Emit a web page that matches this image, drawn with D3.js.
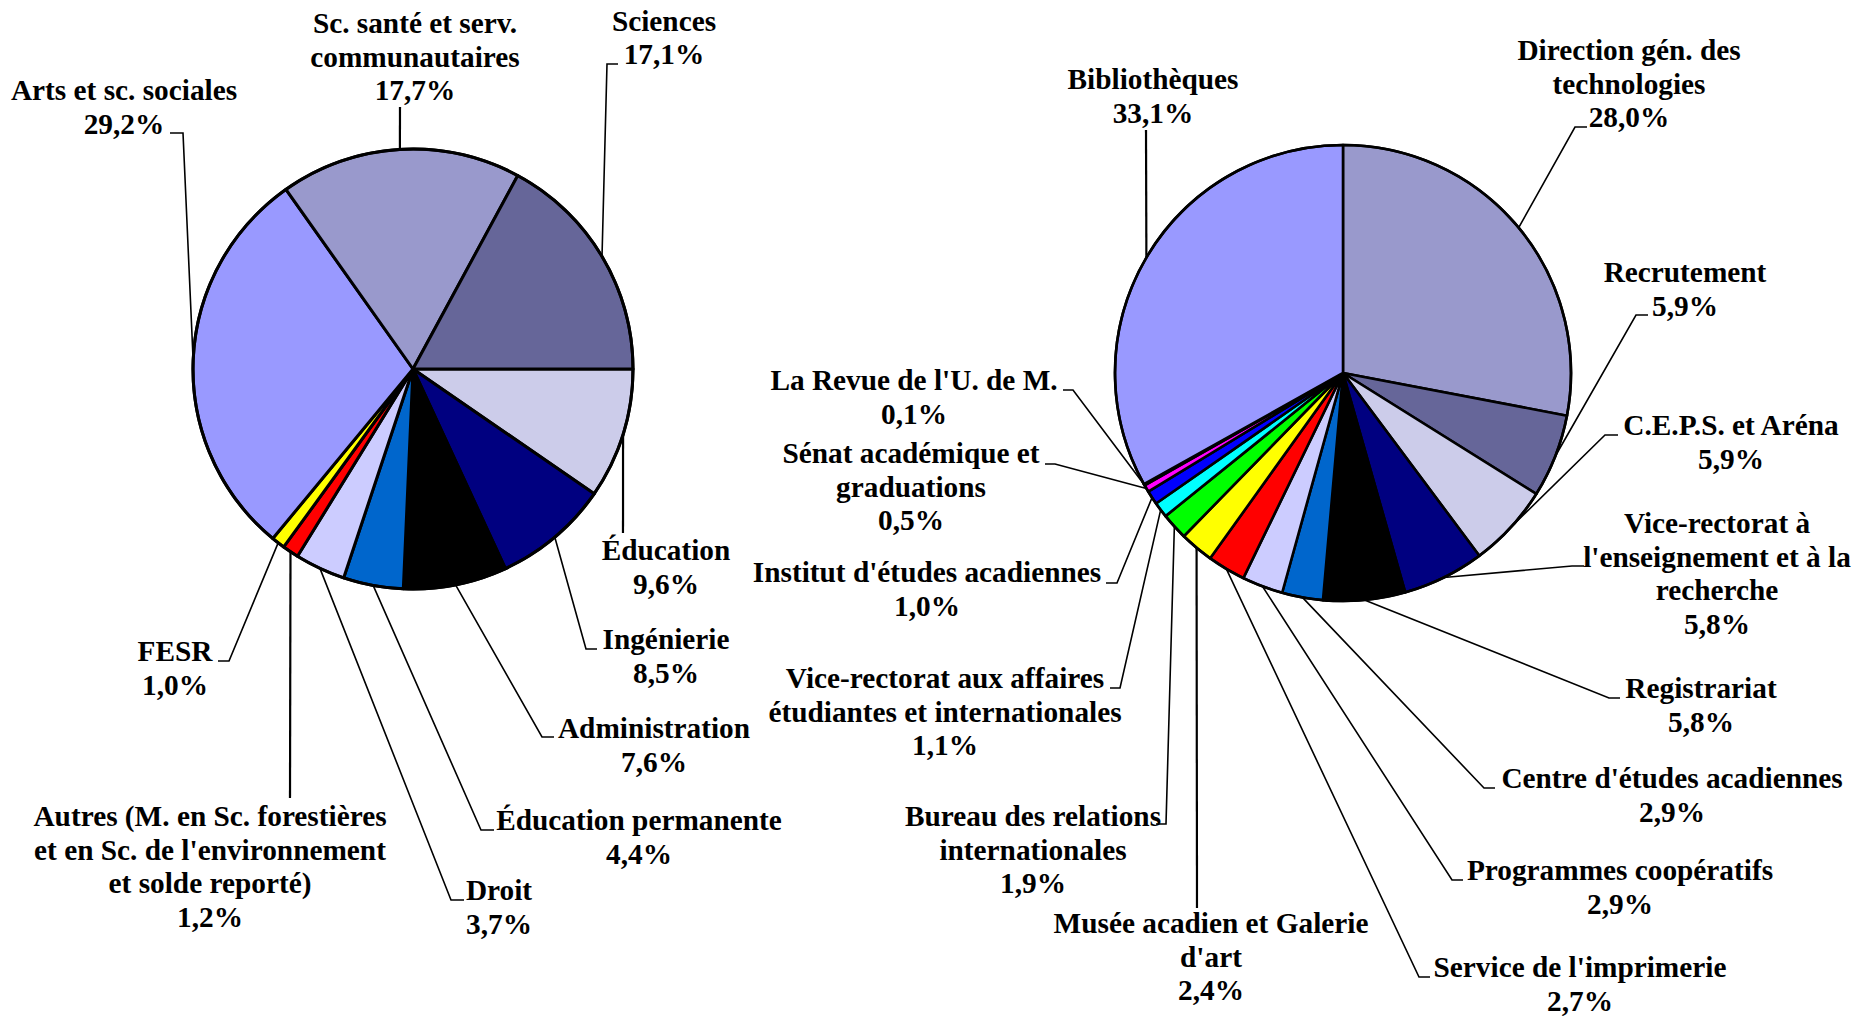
<!DOCTYPE html>
<html>
<head>
<meta charset="utf-8">
<script src="https://cdn.jsdelivr.net/npm/d3@7"></script>
<style>
  body { margin: 0; background: #fff; }
  text { font-family: "Liberation Serif", "Times New Roman", serif; font-weight: bold; font-size: 29.3px; fill: #000; }
</style>
</head>
<body>
<svg id="chart" width="1871" height="1016"></svg>
<script>
// left pie: faculties
const leftNames = [
  ['Éducation'], ['Ingénierie'], ['Administration'], ['Éducation permanente'], ['Droit'],
  ['Autres (M. en Sc. forestières', "et en Sc. de l'environnement", 'et solde reporté)'],
  ['FESR'], ['Arts et sc. sociales'], ['Sc. santé et serv.', 'communautaires'], ['Sciences']
];
const leftValues = [9.6, 8.5, 7.6, 4.4, 3.7, 1.2, 1.0, 29.2, 17.7, 17.1];

// right pie: services
const rightNames = [
  ['Direction gén. des', 'technologies'], ['Recrutement'], ['C.E.P.S. et Aréna'],
  ['Vice-rectorat à', "l'enseignement et à la", 'recherche'], ['Registrariat'],
  ["Centre d'études acadiennes"], ['Programmes coopératifs'], ["Service de l'imprimerie"],
  ['Musée acadien et Galerie', "d'art"], ['Bureau des relations', 'internationales'],
  ['Vice-rectorat aux affaires', 'étudiantes et internationales'], ["Institut d'études acadiennes"],
  ['Sénat académique et', 'graduations'], ["La Revue de l'U. de M."], ['Bibliothèques']
];
const rightValues = [28.0, 5.9, 5.9, 5.8, 5.8, 2.9, 2.9, 2.7, 2.4, 1.9, 1.1, 1.0, 0.5, 0.1, 33.1];

const leftColors = ['#ccccea', '#000080', '#000000', '#0066cc', '#ccccff', '#ff0000', '#ffff00', '#9999ff', '#9999cc', '#666699'];
const rightColors = ['#9999cc', '#666699', '#ccccea', '#000080', '#000000', '#0066cc', '#ccccff', '#ff0000',
  '#ffff00', '#00ff00', '#00ffff', '#0000ff', '#ff00ff', '#800080', '#9999ff'];

// label placement: text centre x, first baseline, leader points (from text side)
const leftLabels = [
  { x: 666, y: 560, lead: [[623, 533]] },
  { x: 666, y: 649, lead: [[597, 649], [586, 649]] },
  { x: 654, y: 738, lead: [[554, 737], [542, 737]] },
  { x: 639, y: 830, lead: [[494, 830], [481, 830]] },
  { x: 499, y: 900, lead: [[464, 900], [451, 900]] },
  { x: 210, y: 826, lead: [[290, 798]] },
  { x: 175, y: 661, lead: [[218, 661], [229, 661]] },
  { x: 124, y: 100, lead: [[170, 133], [183, 133]] },
  { x: 415, y: 33, lead: [[400, 107]] },
  { x: 664, y: 30.5, lead: [[618, 64], [607, 64]] }
];
const rightLabels = [
  { x: 1629, y: 60, lead: [[1587, 127], [1575, 127]] },
  { x: 1685, y: 282, lead: [[1648, 315], [1636, 315]] },
  { x: 1731, y: 435, lead: [[1618, 435], [1605, 435]] },
  { x: 1717, y: 533, lead: [[1584, 566], [1572, 566]] },
  { x: 1701, y: 698, lead: [[1620, 698], [1609, 698]] },
  { x: 1672, y: 788, lead: [[1495, 788], [1484, 788]] },
  { x: 1620, y: 880, lead: [[1463, 880], [1452, 880]] },
  { x: 1580, y: 977, lead: [[1430, 977], [1419, 977]] },
  { x: 1211, y: 933, lead: [[1197, 908]] },
  { x: 1033, y: 826, lead: [[1156, 824], [1166, 824]] },
  { x: 945, y: 688, lead: [[1110, 688], [1120, 688]] },
  { x: 927, y: 582, lead: [[1106, 583], [1117, 583]] },
  { x: 911, y: 463, lead: [[1045, 464], [1055, 464]] },
  { x: 914, y: 390, lead: [[1063, 390], [1073, 390]] },
  { x: 1153, y: 89, lead: [[1146, 130]] }
];

const svg = d3.select('#chart');
const lineH = 33.5;
const fmt = v => d3.format('.1f')(v).replace('.', ',') + '%';

function drawPie(names, values, colors, labels, cx, cy, r, start, stroke) {
  const pie = d3.pie().sort(null).startAngle(start).endAngle(start + 2 * Math.PI);
  const arcs = pie(values);
  const arc = d3.arc().innerRadius(0).outerRadius(r);

  // leader lines first, under the slices
  const lead = svg.append('g');
  arcs.forEach((d, i) => {
    const a = (d.startAngle + d.endAngle) / 2;
    const end = [cx + r * Math.sin(a), cy - r * Math.cos(a)];
    const pts = labels[i].lead.concat([end]);
    const vertical = pts.length === 2;
    lead.append('path')
      .attr('d', d3.line()(pts))
      .attr('fill', 'none')
      .attr('stroke', '#000')
      .attr('stroke-width', vertical ? 2.2 : 1.6);
  });

  const g = svg.append('g').attr('transform', `translate(${cx},${cy})`);
  g.selectAll('path')
    .data(arcs)
    .enter()
    .append('path')
    .attr('d', arc)
    .attr('fill', (d, i) => colors[i])
    .attr('stroke', '#000')
    .attr('stroke-width', stroke)
    .attr('stroke-linejoin', 'round');
  g.append('circle').attr('r', r).attr('fill', 'none').attr('stroke', '#000').attr('stroke-width', stroke);

  const t = svg.append('g');
  arcs.forEach((d, i) => {
    const lines = names[i].concat([fmt(values[i])]);
    const txt = t.append('text').attr('text-anchor', 'middle');
    lines.forEach((s, k) => {
      txt.append('tspan').attr('x', labels[i].x).attr('y', labels[i].y + k * lineH).text(s);
    });
  });
}

drawPie(leftNames, leftValues, leftColors, leftLabels, 413, 369, 220, Math.PI / 2, 3);
drawPie(rightNames, rightValues, rightColors, rightLabels, 1343, 373, 228, 0, 2.6);
</script>
</body>
</html>
